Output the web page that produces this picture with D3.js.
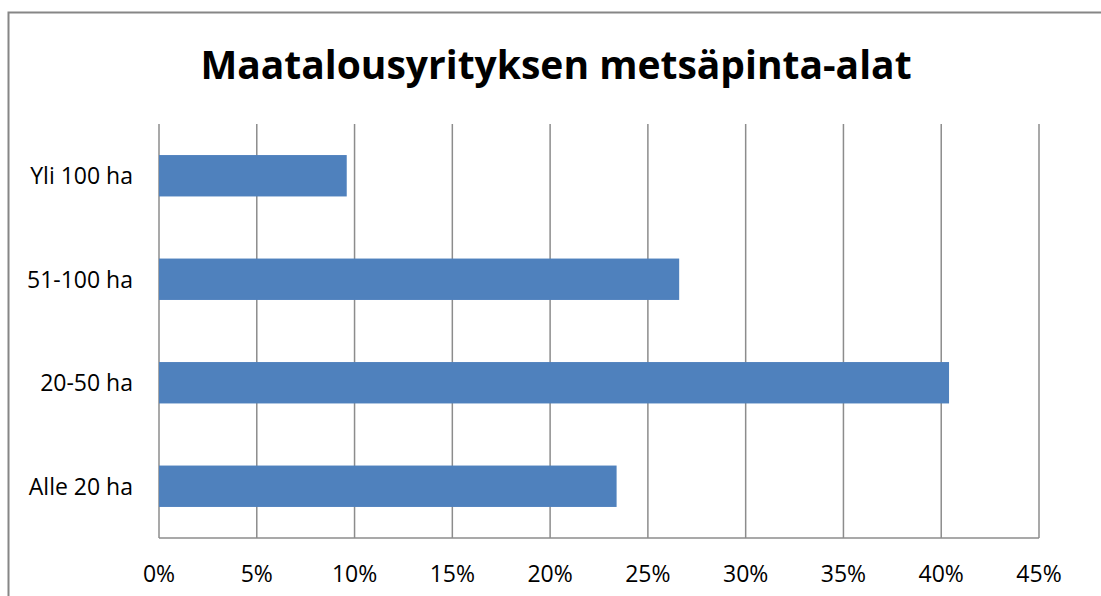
<!DOCTYPE html>
<html>
<head>
<meta charset="utf-8">
<script src="https://cdn.jsdelivr.net/npm/d3@7"></script>
<style>
  body { margin: 0; background: #fff; }
  svg { display: block; }
</style>
</head>
<body>
<div id="chart"></div>
<script>
// data
const categories = ["Alle 20 ha", "20-50 ha", "51-100 ha", "Yli 100 ha"];
const shares = [23.4, 40.4, 26.6, 9.6];
const ticks = [0, 5, 10, 15, 20, 25, 30, 35, 40, 45];

const W = 1101, H = 596;
let margin = { top: 124, right: 62, bottom: 58, left: 159 };
let width = W - margin.left - margin.right;
let height = H - margin.top - margin.bottom;

let svg = d3.select("#chart")
    .append("svg")
    .attr("width", W)
    .attr("height", H);

// chart frame (right and bottom edges fall outside the picture)
svg.append("rect")
    .attr("x", 8.5)
    .attr("y", 12.5)
    .attr("width", 1110)
    .attr("height", 620)
    .attr("fill", "none")
    .attr("stroke", "#868686")
    .attr("stroke-width", 2);

svg.append("text")
    .attr("x", 556)
    .attr("y", 79)
    .attr("text-anchor", "middle")
    .style("font-family", "'Open Sans', sans-serif")
    .style("font-weight", "bold")
    .style("font-size", "39px")
    .style("fill", "#000")
    .text("Maatalousyrityksen metsäpinta-alat");

let g = svg.append("g")
    .attr("transform", "translate(" + margin.left + "," + margin.top + ")");

const x = d3.scaleLinear()
    .domain([0, 45])
    .range([0, width]);

const y = d3.scaleBand()
    .domain(categories.slice().reverse())
    .range([0, height])
    .paddingInner(0.6)
    .paddingOuter(0.3);

// vertical gridlines
g.append("g")
    .selectAll("line")
    .data(ticks)
    .join("line")
    .attr("x1", d => x(d))
    .attr("x2", d => x(d))
    .attr("y1", 0)
    .attr("y2", height)
    .attr("stroke", "#8c8c8c")
    .attr("stroke-width", 1.5);

// bottom axis line
g.append("line")
    .attr("x1", 0)
    .attr("x2", width)
    .attr("y1", height)
    .attr("y2", height)
    .attr("stroke", "#8c8c8c")
    .attr("stroke-width", 1.5);

// bars
g.selectAll("rect.bar")
    .data(categories)
    .join("rect")
    .attr("class", "bar")
    .attr("x", 0)
    .attr("y", d => y(d))
    .attr("width", (d, i) => x(shares[i]))
    .attr("height", y.bandwidth())
    .attr("fill", "#4f81bd");

// x tick labels
g.append("g")
    .selectAll("text")
    .data(ticks)
    .join("text")
    .attr("x", d => x(d))
    .attr("y", height + 44)
    .attr("text-anchor", "middle")
    .style("font-family", "'Open Sans', sans-serif")
    .style("font-size", "23px")
    .style("fill", "#000")
    .text(d => d + "%");

// category labels
g.append("g")
    .selectAll("text")
    .data(categories)
    .join("text")
    .attr("x", -26)
    .attr("y", d => y(d) + y.bandwidth() / 2)
    .attr("dy", "0.36em")
    .attr("text-anchor", "end")
    .style("font-family", "'Open Sans', sans-serif")
    .style("font-size", "23px")
    .style("fill", "#000")
    .text(d => d);
</script>
</body>
</html>
